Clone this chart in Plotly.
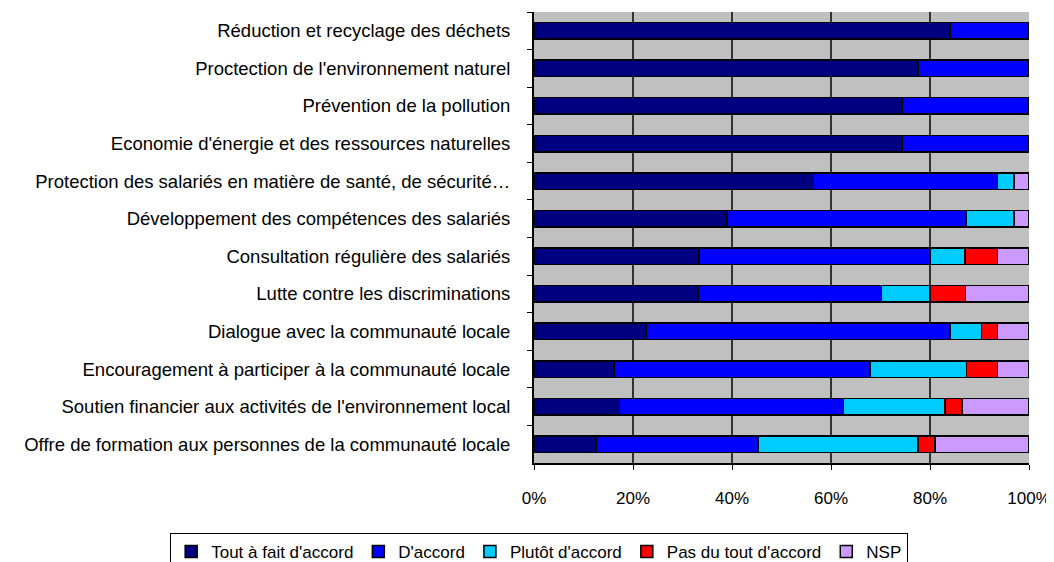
import plotly.graph_objects as go

CATEGORIES = ["Réduction et recyclage des déchets",
              "Proctection de l'environnement naturel",
              "Prévention de la pollution",
              "Economie d'énergie et des ressources naturelles",
              "Protection des salariés en matière de santé, de sécurité…",
              "Développement des compétences des salariés",
              "Consultation régulière des salariés",
              "Lutte contre les discriminations",
              "Dialogue avec la communauté locale",
              "Encouragement à participer à la communauté locale",
              "Soutien financier aux activités de l'environnement local",
              "Offre de formation aux personnes de la communauté locale"]

TOUT_A_FAIT = [84.0, 77.6, 74.3, 74.3, 56.5, 39.0, 33.3, 33.2, 22.7, 16.3, 17.3, 12.6]
D_ACCORD = [16.0, 22.4, 25.7, 25.7, 37.1, 48.4, 46.7, 37.0, 61.3, 51.6, 45.2, 32.8]
PLUTOT = [0, 0, 0, 0, 3.4, 9.6, 7.1, 9.8, 6.4, 19.5, 20.5, 32.2]
PAS_DU_TOUT = [0, 0, 0, 0, 0, 0, 6.5, 7.2, 3.2, 6.2, 3.5, 3.4]
NSP = [0, 0, 0, 0, 3.0, 3.0, 6.4, 12.8, 6.4, 6.4, 13.5, 19.0]

SERIES = [("Tout à fait d'accord", TOUT_A_FAIT, '#000080'),
          ("D'accord", D_ACCORD, '#0000FF'),
          ("Plutôt d'accord", PLUTOT, '#00CCFF'),
          ("Pas du tout d'accord", PAS_DU_TOUT, '#FF0000'),
          ("NSP", NSP, '#CC99FF')]

fig = go.Figure()

for name, values, color in SERIES:
    fig.add_trace(go.Bar(y=CATEGORIES, x=values, name=name, orientation='h',
                         marker={'color': color, 'line': {'color': 'black', 'width': 1.5}}))

# the page body adds an 8px offset, so the figure is 8px smaller on each side
fig.update_layout(
    barmode='stack',
    bargap=0.56,
    width=1046, height=554,
    margin={'l': 526, 'r': 25, 't': 4, 'b': 99, 'autoexpand': False},
    paper_bgcolor='white',
    plot_bgcolor='#C0C0C0',
    font={'family': 'Liberation Sans, Arial, sans-serif', 'size': 18.5, 'color': 'black'},
    legend={'orientation': 'h', 'traceorder': 'normal',
            'x': -0.735, 'xanchor': 'left', 'y': -0.155, 'yanchor': 'top',
            'bordercolor': 'black', 'borderwidth': 1, 'font': {'size': 17},
            'itemclick': False, 'tracegroupgap': 0},
)

fig.update_xaxes(range=[0, 100], tickvals=[0, 20, 40, 60, 80, 100],
                 ticktext=['0%', '20%', '40%', '60%', '80%', '100%'],
                 showgrid=True, gridcolor='#333333', gridwidth=2,
                 showline=True, linecolor='black', linewidth=2,
                 ticks='outside', ticklen=5, tickcolor='black', zeroline=False,
                 automargin=False, tickfont={'size': 17}, ticklabelstandoff=14)

fig.update_yaxes(autorange='reversed', tickson='boundaries', ticks='outside',
                 ticklen=5, tickcolor='black', showline=True, linecolor='black',
                 linewidth=2, showgrid=False, automargin=False, ticklabelstandoff=18)

fig.write_html("out.html")
